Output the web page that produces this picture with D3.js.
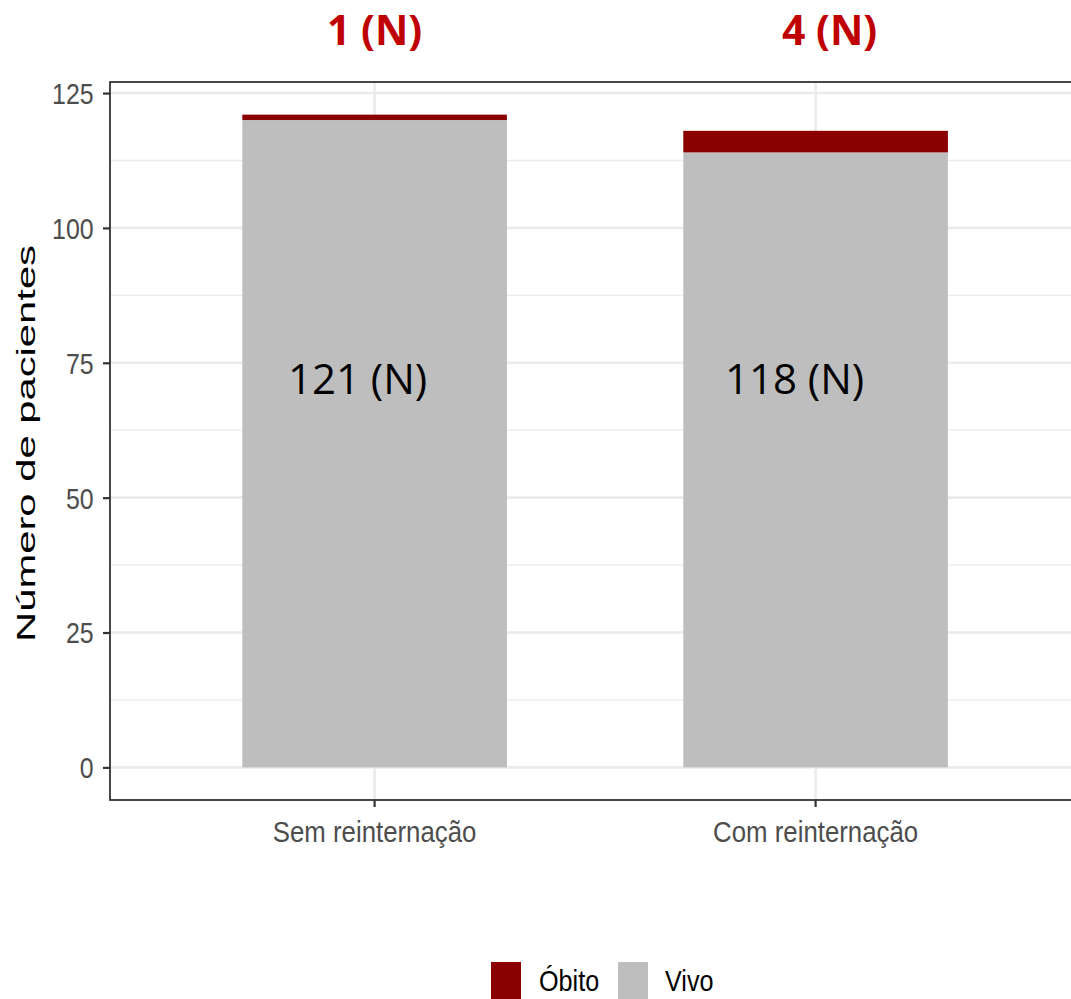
<!DOCTYPE html>
<html>
<head>
<meta charset="utf-8">
<script src="https://cdn.jsdelivr.net/npm/d3@7"></script>
<style>
  html, body { margin: 0; padding: 0; background: #ffffff; overflow: hidden; }
  svg { display: block; }
</style>
</head>
<body>
<svg id="chart" width="1071" height="999"></svg>
<script>
// ---- data ----
const categories = ["Sem reinternação", "Com reinternação"];
const seriesNames = ["Óbito", "Vivo"];
const vivoValues = [120, 114];
const obitoValues = [1, 4];
const totalLabels = ["121 (N)", "118 (N)"];
const obitoLabels = ["1 (N)", "4 (N)"];
const yTicks = [0, 25, 50, 75, 100, 125];
const yMinorTicks = [12.5, 37.5, 62.5, 87.5, 112.5];
const yTitle = "Número de pacientes";

// ---- layout ----
const W = 1071, H = 999;
const panel = { left: 110, top: 82, bottom: 800 };
const stepPx = 441;
const panelRight = panel.left + 2.2 * stepPx;
const svg = d3.select("#chart");
svg.append("rect").attr("width", W).attr("height", H).attr("fill", "#fff");

const x = d3.scaleBand().domain(categories)
  .range([panel.left, panelRight]).paddingInner(0.4).paddingOuter(0.3);
const yMaxData = d3.max(categories.map((c, i) => vivoValues[i] + obitoValues[i]));
const expand = 0.05 * yMaxData;
const y = d3.scaleLinear().domain([-expand, yMaxData + expand]).range([panel.bottom, panel.top]);

const color = d3.scaleOrdinal().domain(seriesNames).range(["#8b0000", "#bebebe"]);

// grid
const grid = svg.append("g");
grid.selectAll(".minor").data(yMinorTicks).join("line")
  .attr("x1", panel.left).attr("x2", panelRight)
  .attr("y1", d => y(d)).attr("y2", d => y(d))
  .attr("stroke", "#ebebeb").attr("stroke-width", 1.3);
grid.selectAll(".major").data(yTicks).join("line")
  .attr("x1", panel.left).attr("x2", panelRight)
  .attr("y1", d => y(d)).attr("y2", d => y(d))
  .attr("stroke", "#ebebeb").attr("stroke-width", 2.6);
grid.selectAll(".vmajor").data(categories).join("line")
  .attr("x1", d => x(d) + x.bandwidth() / 2).attr("x2", d => x(d) + x.bandwidth() / 2)
  .attr("y1", panel.top).attr("y2", panel.bottom)
  .attr("stroke", "#ebebeb").attr("stroke-width", 2.6);

// stacked bars
const rows = categories.map((c, i) => ({ cat: c, "Vivo": vivoValues[i], "Óbito": obitoValues[i] }));
const stack = d3.stack().keys(["Vivo", "Óbito"])(rows);
svg.append("g").selectAll("g").data(stack).join("g")
  .attr("fill", d => color(d.key))
  .selectAll("rect").data(d => d).join("rect")
  .attr("x", d => x(d.data.cat))
  .attr("width", x.bandwidth())
  .attr("y", d => y(d[1]))
  .attr("height", d => y(d[0]) - y(d[1]));

// panel border
svg.append("rect")
  .attr("x", panel.left).attr("y", panel.top)
  .attr("width", panelRight - panel.left).attr("height", panel.bottom - panel.top)
  .attr("fill", "none").attr("stroke", "#333333").attr("stroke-width", 1.8);

// y axis
const yAxis = svg.append("g").attr("transform", `translate(${panel.left},0)`)
  .call(d3.axisLeft(y).tickValues(yTicks).tickSize(7).tickFormat(d3.format("d")));
yAxis.select(".domain").remove();
yAxis.selectAll(".tick line").attr("stroke", "#333333").attr("stroke-width", 2.2);
yAxis.selectAll(".tick text")
  .attr("font-family", "Liberation Sans, Arial, sans-serif")
  .attr("font-size", 29).attr("fill", "#4d4d4d")
  .attr("x", -19).attr("dy", "0.36em")
  .attr("transform", "scale(0.86,1)");

// x axis
const xAxis = svg.append("g").attr("transform", `translate(0,${panel.bottom})`)
  .call(d3.axisBottom(x).tickSize(7));
xAxis.select(".domain").remove();
xAxis.selectAll(".tick line").attr("stroke", "#333333").attr("stroke-width", 2.2);
xAxis.selectAll(".tick text")
  .attr("font-family", "Liberation Sans, Arial, sans-serif")
  .attr("font-size", 30).attr("fill", "#4d4d4d")
  .attr("y", 42).attr("dy", 0)
  .attr("transform", "scale(0.86,1)")
  .attr("x", 0);

// y title
svg.append("text")
  .attr("transform", `translate(35,${(245 + 642) / 2}) rotate(-90)`)
  .attr("text-anchor", "middle")
  .attr("font-family", "Liberation Sans, Arial, sans-serif")
  .attr("font-size", 26).attr("fill", "#000")
  .attr("textLength", 397).attr("lengthAdjust", "spacingAndGlyphs")
  .text(yTitle);

// total labels inside bars
const totalOffsets = [-17, -21];
svg.append("g").selectAll("text").data(categories).join("text")
  .attr("x", (d, i) => x(d) + x.bandwidth() / 2 + totalOffsets[i])
  .attr("y", y(69.2))
  .attr("text-anchor", "middle")
  .attr("font-family", "Open Sans, Noto Sans, sans-serif")
  .attr("font-size", 42).attr("fill", "#000")
  .text((d, i) => totalLabels[i]);

// obito labels on top
const topOffsets = [0, 14];
svg.append("g").selectAll("text").data(categories).join("text")
  .attr("x", (d, i) => x(d) + x.bandwidth() / 2 + topOffsets[i])
  .attr("y", 45)
  .attr("text-anchor", "middle")
  .attr("font-family", "Open Sans, Noto Sans, sans-serif")
  .attr("font-weight", "bold")
  .attr("font-size", 41).attr("fill", "#c00000")
  .text((d, i) => obitoLabels[i]);

// legend
const legendItems = [
  { key: "Óbito", rx: 491, tx: 539 },
  { key: "Vivo", rx: 618, tx: 665 }
];
const lg = svg.append("g");
lg.selectAll("rect").data(legendItems).join("rect")
  .attr("x", d => d.rx).attr("y", 962).attr("width", 30).attr("height", 40)
  .attr("fill", d => color(d.key));
lg.selectAll("text").data(legendItems).join("text")
  .attr("transform", d => `translate(${d.tx},991) scale(0.84,1)`)
  .attr("font-family", "Liberation Sans, Arial, sans-serif")
  .attr("font-size", 30).attr("fill", "#000")
  .text(d => d.key);
</script>
</body>
</html>
